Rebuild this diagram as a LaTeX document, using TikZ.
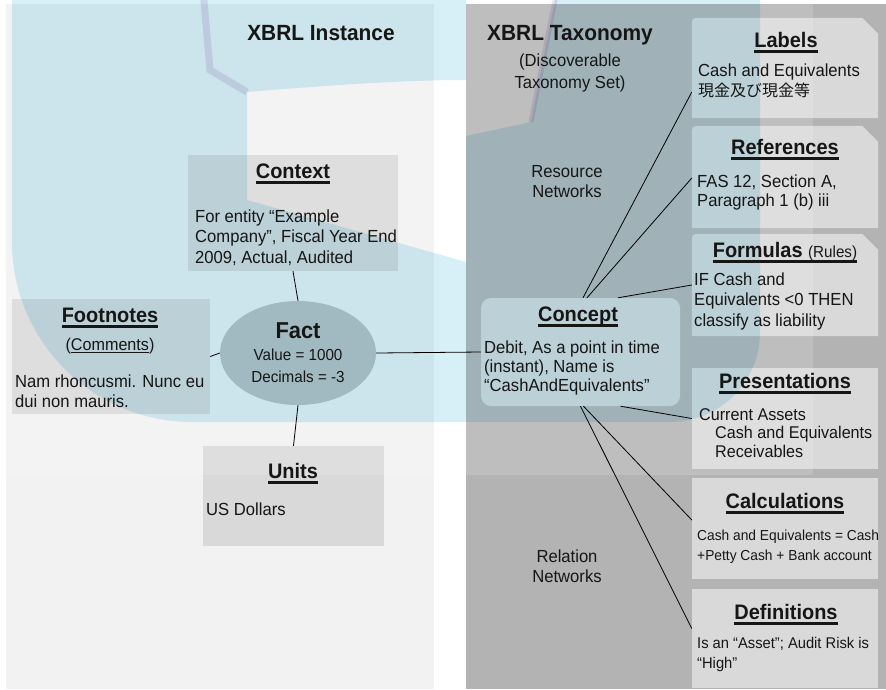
\documentclass[tikz,border=0pt]{standalone}
\usepackage{fontspec}
\setmainfont{Liberation Sans}[FakeStretch=0.95]
\newfontfamily\cjk{Noto Sans CJK JP}
\usetikzlibrary{fit,shapes.geometric}

\definecolor{panelleft}{HTML}{F2F2F2}
\definecolor{panelright}{HTML}{B3B3B3}
\definecolor{boxgray}{HTML}{D9D9D9}
\definecolor{factgray}{HTML}{B4BCBE}
\definecolor{inkgray}{HTML}{161616}
\definecolor{markblue}{RGB}{215,240,247}
\definecolor{markpurple}{RGB}{236,228,240}

\newcommand\bodyfont{\fontsize{17.5}{20.5}\selectfont}
\newcommand\headfont{\fontsize{21}{24}\selectfont\bfseries}
\newsavebox\headbox
\newcommand\boxhead[1]{\sbox\headbox{\headfont #1}\rlap{\rule[-5.5pt]{\wd\headbox}{2.4pt}}\usebox\headbox}
\newcommand\thinline[1]{\sbox\headbox{#1}\rlap{\rule[-3pt]{\wd\headbox}{1pt}}\usebox\headbox}
%% card with a rounded and a cut corner on top
\newcommand\cutcard[1]{\fill[boxgray] (#1.south west) -- ([yshift=-10pt]#1.north west)
    .. controls (#1.north west) .. ([xshift=10pt]#1.north west)
    -- ([xshift=-16pt]#1.north east) -- ([yshift=-16pt]#1.north east) -- (#1.south east) -- cycle;}

\begin{document}
\begin{tikzpicture}[x=1pt,y=-1pt,
    txt/.style={inner sep=0pt, text=inkgray, font=\bodyfont, align=left, anchor=base west},
    ttl/.style={inner sep=0pt, text=inkgray, font=\bodyfont, anchor=base, align=center},
    card/.style={fill=boxgray, inner sep=0pt},
    link/.style={draw=black, line width=0.8pt}]

\useasboundingbox (0,0) rectangle (886,689);

%%panels
\fill[panelleft] (6,4) rectangle (434,689);
\fill[panelright] (466,4) rectangle (886,689);

%%instance side
\node[card, fit={(188,155) (398,271)}] (context) {};
\node[card, fit={(12,299) (210,414)}] (footnotes) {};
\node[card, fit={(203,446) (384,546)}] (units) {};
\node[ellipse, fill=factgray, minimum width=156pt, minimum height=104pt, inner sep=0pt] (fact) at (298,353) {};

%%taxonomy side
\node[inner sep=0pt, fit={(692,18) (878,118)}] (labels) {};
\node[inner sep=0pt, fit={(692,126) (878,228)}] (references) {};
\node[inner sep=0pt, fit={(692,234) (878,336)}] (formulas) {};
\cutcard{labels}
\cutcard{references}
\cutcard{formulas}
\node[card, fit={(692,368) (878,469)}] (presentations) {};
\node[card, fit={(692,478) (878,579)}] (calculations) {};
\node[card, fit={(692,589) (878,688)}] (definitions) {};
\node[card, rounded corners=10pt, fit={(481,298) (680,406)}] (concept) {};

%%watermark: pale page, blue book with its open pages cut out
\fill[white, opacity=0.15] (0,0) rectangle (813,475);
\begin{scope}[blend mode=multiply]
    \fill[markblue, even odd rule] (12,-10) -- (12,242) .. controls (12,341) and (93,422) .. (192,422)
        -- (670,422) .. controls (720,422) and (760,382) .. (760,332) -- (760,-10) -- cycle
        (247,92) .. controls (320,86) and (400,80) .. (466,80) -- (466,-10) -- (557,-10)
        -- (531,122) -- (466,136) -- (466,262) -- (247,200) -- cycle;
    \draw[markpurple, line width=5pt] (557,-10) -- (531,122);
    \draw[markpurple, line width=7pt] (203,-10) -- (210,70) -- (247,92);
\end{scope}

%%connectors
\draw[link] (fact.north) -- (context.south);
\draw[link] (fact.west) -- (footnotes.east);
\draw[link] (fact.south) -- (units.north);
\draw[link] (fact.east) -- (concept.west);
\draw[link] ([xshift=2.5pt]concept.north) -- ([yshift=-24pt]labels.west);
\draw[link] ([xshift=6.5pt]concept.north) -- ([yshift=-1pt]references.west);
\draw[link] ([xshift=37.5pt]concept.north) -- (formulas.west);
\draw[link] ([xshift=40pt]concept.south) -- (presentations.west);
\draw[link] ([xshift=3pt]concept.south) -- ([yshift=8.5pt]calculations.west);
\draw[link] (concept.south) -- ([yshift=10pt]definitions.west);

%%titles (multi-line texts sit on their last baseline)
\node[ttl, font=\fontsize{22}{24}\selectfont\bfseries] (insttitle) at (321,40) {XBRL Instance};
\node[ttl, font=\fontsize{22}{24}\selectfont\bfseries] (taxtitle) at (570,40) {XBRL Taxonomy};
\node[ttl, font=\fontsize{17.5}{22}\selectfont] (dts) at (570,88) {(Discoverable\\Taxonomy Set)};
\node[ttl] (resnet) at (567,197.5) {Resource\\Networks};
\node[ttl] (relnet) at (567,582.5) {Relation\\Networks};

%%texts of the instance side
\node[ttl, font=\fontsize{16}{22}\selectfont] (facttext) at (298,382) {{\fontsize{23}{22}\selectfont\bfseries Fact}\\Value = 1000\\Decimals = -3};
\node[ttl] (contexthead) at (293,178) {\boxhead{Context}};
\node[txt] (contextbody) at (195,263) {For entity “Example\\Company”, Fiscal Year End\\2009, Actual, Audited};
\node[ttl] (footnoteshead) at (110,322) {\boxhead{Footnotes}};
\node[ttl, font=\fontsize{17}{20}\selectfont] (comments) at (110,350) {(\thinline{Comments})};
\node[txt] (footnotesbody) at (15,407.5) {Nam rhoncusmi. Nunc eu\\dui non mauris.};
\node[ttl] (unitshead) at (293,478) {\boxhead{Units}};
\node[txt] (unitsbody) at (206,515) {US Dollars};

%%texts of the taxonomy side
\node[ttl] (concepthead) at (578,321) {\boxhead{Concept}};
\node[txt, font=\fontsize{17.5}{19}\selectfont] (conceptbody) at (484,391) {Debit, As a point in time\\(instant), Name is\\“CashAndEquivalents”};
\node[ttl] (labelshead) at (786,47) {\boxhead{Labels}};
\node[txt, font=\fontsize{17.5}{20}\selectfont] (labelsbody) at (698,96) {Cash and Equivalents\\{\cjk\fontsize{16}{20}\selectfont 現金及び現金等}};
\node[ttl] (referenceshead) at (785,154) {\boxhead{References}};
\node[txt, font=\fontsize{17.5}{19}\selectfont] (referencesbody) at (697,206) {FAS 12, Section A,\\Paragraph 1 (b) iii};
\node[ttl] (formulashead) at (785,257) {\boxhead{Formulas {\mdseries\fontsize{16}{20}\selectfont(Rules)}}};
\node[txt] (formulasbody) at (694,326) {IF Cash and\\Equivalents <0 THEN\\classify as liability};
\node[ttl] (presentationshead) at (785,388) {\boxhead{Presentations}};
\node[txt, font=\fontsize{17}{18.5}\selectfont] (presentationsbody) at (699,457) {Current Assets\\\hspace{16pt}Cash and Equivalents\\\hspace{16pt}Receivables};
\node[ttl] (calculationshead) at (785,508) {\boxhead{Calculations}};
\node[txt, font=\fontsize{14.5}{20}\selectfont] (calculationsbody) at (697,560) {Cash and Equivalents = Cash\\+Petty Cash + Bank account};
\node[ttl] (definitionshead) at (786,619) {\boxhead{Definitions}};
\node[txt, font=\fontsize{15.5}{20}\selectfont] (definitionsbody) at (697,668) {Is an “Asset”; Audit Risk is\\“High”};
\end{tikzpicture}
\end{document}
